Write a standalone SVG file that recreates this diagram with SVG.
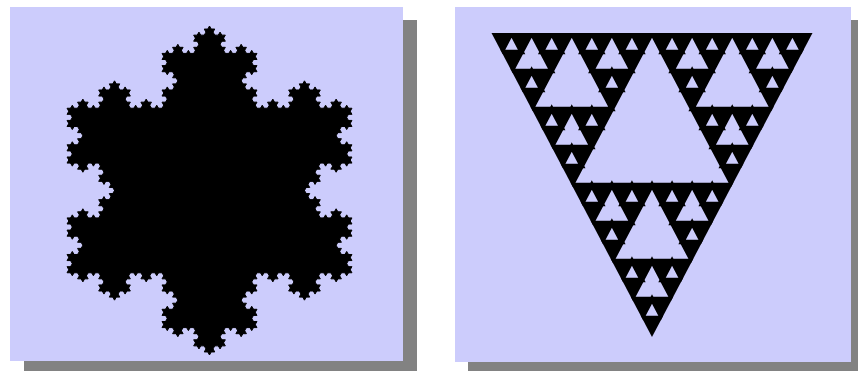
<svg xmlns="http://www.w3.org/2000/svg" xmlns:xlink="http://www.w3.org/1999/xlink" width="858" height="376" viewBox="0 0 858 376">
<style>
.bg{fill:#ccccfc}
.sh{fill:#828282}
.k{fill:#000;stroke:#000;stroke-width:1;vector-effect:non-scaling-stroke;stroke-linejoin:round}
.h{fill:#ccccfc;stroke:#000;stroke-width:4.5;vector-effect:non-scaling-stroke;stroke-linejoin:miter;stroke-miterlimit:10}
</style>
<defs>
  <polygon id="kb" class="k" points="0.333333,0 0.5,-0.288675 0.666667,0 0.5,0.06"/>
  <g id="k1"><use href="#kb"/></g>
  <g id="k2">
    <use href="#kb"/>
    <use href="#k1" transform="scale(0.333333)"/>
    <use href="#k1" transform="translate(0.333333,0) rotate(-60) scale(0.333333)"/>
    <use href="#k1" transform="translate(0.5,-0.288675) rotate(60) scale(0.333333)"/>
    <use href="#k1" transform="translate(0.666667,0) scale(0.333333)"/>
  </g>
  <g id="k3">
    <use href="#kb"/>
    <use href="#k2" transform="scale(0.333333)"/>
    <use href="#k2" transform="translate(0.333333,0) rotate(-60) scale(0.333333)"/>
    <use href="#k2" transform="translate(0.5,-0.288675) rotate(60) scale(0.333333)"/>
    <use href="#k2" transform="translate(0.666667,0) scale(0.333333)"/>
  </g>
  <g id="k4">
    <use href="#kb"/>
    <use href="#k3" transform="scale(0.333333)"/>
    <use href="#k3" transform="translate(0.333333,0) rotate(-60) scale(0.333333)"/>
    <use href="#k3" transform="translate(0.5,-0.288675) rotate(60) scale(0.333333)"/>
    <use href="#k3" transform="translate(0.666667,0) scale(0.333333)"/>
  </g>
  <polygon id="h" class="h" points="0.5,0 0.25,0.5 0.75,0.5"/>
  <g id="s2">
    <use href="#h"/>
    <use href="#h" transform="scale(0.5)"/>
    <use href="#h" transform="translate(0.5,0) scale(0.5)"/>
    <use href="#h" transform="translate(0.25,0.5) scale(0.5)"/>
  </g>
  <g id="s3">
    <use href="#h"/>
    <use href="#s2" transform="scale(0.5)"/>
    <use href="#s2" transform="translate(0.5,0) scale(0.5)"/>
    <use href="#s2" transform="translate(0.25,0.5) scale(0.5)"/>
  </g>
  <g id="s4">
    <use href="#h"/>
    <use href="#s3" transform="scale(0.5)"/>
    <use href="#s3" transform="translate(0.5,0) scale(0.5)"/>
    <use href="#s3" transform="translate(0.25,0.5) scale(0.5)"/>
  </g>
  <clipPath id="triclip">
    <polygon points="491.5,33 812.5,33 652,337"/>
  </clipPath>
</defs>
<rect width="858" height="376" fill="#fff"/>
<g id="koch-panel">
  <rect class="sh" x="24" y="20" width="393" height="351"/>
  <rect class="bg" x="10" y="7" width="393" height="354"/>
  <g id="koch-snowflake">
    <polygon class="k" points="209.5,26 351.96,272.75 67.04,272.75"/>
    <use href="#k4" transform="translate(209.5,26) rotate(60) scale(284.92)"/>
    <use href="#k4" transform="translate(351.96,272.75) rotate(180) scale(284.92)"/>
    <use href="#k4" transform="translate(67.04,272.75) rotate(-60) scale(284.92)"/>
  </g>
</g>
<g id="sierpinski-panel">
  <rect class="sh" x="468" y="20" width="393" height="351"/>
  <rect class="bg" x="455" y="7" width="396" height="355"/>
  <g id="sierpinski-triangle">
    <polygon points="491.5,33 812.5,33 652,337" fill="#000"/>
    <g clip-path="url(#triclip)">
      <use href="#s4" transform="translate(491.5,33) scale(321,304)"/>
    </g>
  </g>
</g>
</svg>
